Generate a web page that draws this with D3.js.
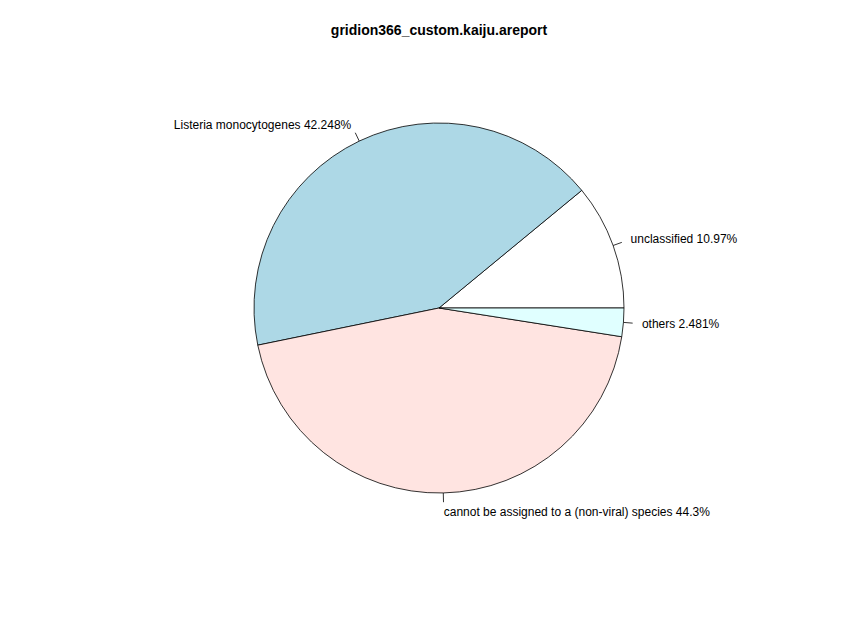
<!DOCTYPE html>
<html><head><meta charset="utf-8">
<script src="https://cdn.jsdelivr.net/npm/d3@7"></script>
<style>body{margin:0;background:#fff}</style></head>
<body><svg id="c" width="850" height="632"></svg>
<script>
const labels = ["unclassified 10.97%", "Listeria monocytogenes 42.248%", "cannot be assigned to a (non-viral) species 44.3%", "others 2.481%"];
const values = [10.97, 42.248, 44.3, 2.481];
const colors = ["#FFFFFF", "#ADD8E6", "#FFE4E1", "#E0FFFF"];
const title = "gridion366_custom.kaiju.areport";

const svg = d3.select("#c");
const cx = 439, cy = 308, R = 185;
const total = d3.sum(values);
const cum = d3.cumsum(values);
const theta = d3.scaleLinear().domain([0, total]).range([0, 2 * Math.PI]);
const arc = d3.arc().innerRadius(0).outerRadius(R);
const g = svg.append("g").attr("transform", `translate(${cx},${cy})`);
values.forEach((v, i) => {
  const t0 = theta(cum[i] - v), t1 = theta(cum[i]);
  g.append("path")
    .attr("d", arc({startAngle: Math.PI / 2 - t1, endAngle: Math.PI / 2 - t0}))
    .attr("fill", colors[i]).attr("stroke", "#000").attr("stroke-width", 0.8);
  const m = (t0 + t1) / 2, c = Math.cos(m), s = Math.sin(m);
  g.append("line").attr("x1", R * c).attr("y1", -R * s).attr("x2", 1.05 * R * c).attr("y2", -1.05 * R * s)
    .attr("stroke", "#000").attr("stroke-width", 0.8);
  g.append("text").attr("x", 1.1 * R * c).attr("y", -1.1 * R * s).attr("dy", "0.35em")
    .attr("text-anchor", c > 0 ? "start" : "end")
    .attr("font-family", "Liberation Sans, Arial, sans-serif").attr("font-size", 12).text(labels[i]);
});
svg.append("text").attr("x", 439).attr("y", 35).attr("text-anchor", "middle")
  .attr("font-family", "Liberation Sans, Arial, sans-serif").attr("font-size", 14).attr("font-weight", "bold").text(title);
</script></body></html>
